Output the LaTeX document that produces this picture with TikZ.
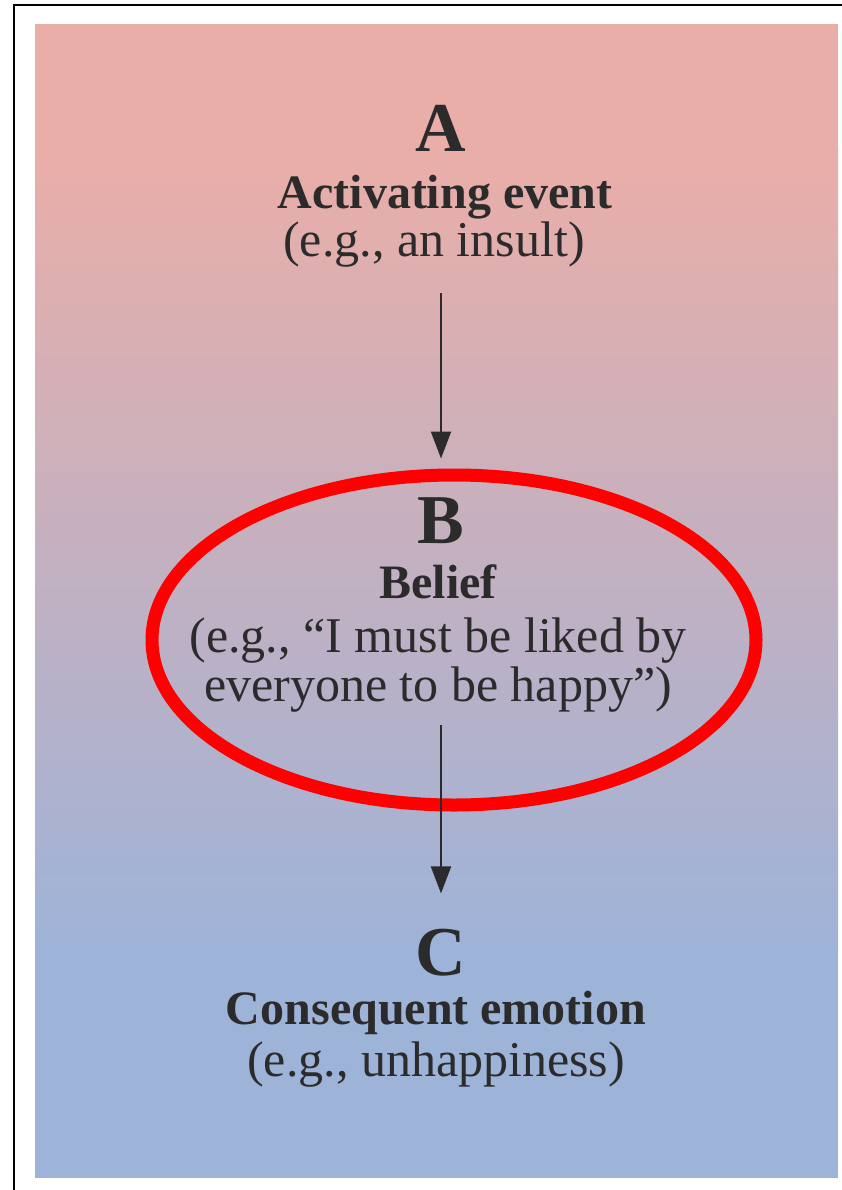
\documentclass[tikz,border=0pt]{standalone}
\usepackage{fontspec}
\setmainfont{Liberation Serif}
\usetikzlibrary{arrows.meta,shapes.geometric}
\definecolor{inkgray}{RGB}{43,43,43}
\definecolor{toppink}{RGB}{234,174,168}
\definecolor{bottomblue}{RGB}{158,179,216}
\definecolor{ringred}{RGB}{255,0,0}

\begin{document}
\begin{tikzpicture}[x=1pt, y=-1pt,
    letter/.style={anchor=base, inner sep=0pt, text=inkgray, font=\fontsize{70}{70}\selectfont\bfseries},
    headline/.style={anchor=base, inner sep=0pt, text=inkgray, font=\fontsize{48}{48}\selectfont\bfseries},
    example/.style={anchor=base, inner sep=0pt, text=inkgray, font=\fontsize{50}{50}\selectfont},
    arrow/.style={draw=inkgray, line width=2pt, -{Triangle[length=27pt,width=20pt]}}]
    % Page and frame
    \useasboundingbox (0,0) rectangle (842,1190);
    \clip (0,0) rectangle (842,1190);
    \fill[white] (0,0) rectangle (842,1190);
    \draw[line width=2pt] (14,5) rectangle (900,1250);
    \fill[toppink] (35,24) rectangle (838,151);
    \shade[top color=toppink, bottom color=bottomblue] (35,150) rectangle (838,951);
    \fill[bottomblue] (35,950) rectangle (838,1178);

    % Ring around B
    \node[ellipse, draw=ringred, line width=13pt, minimum width=604pt, minimum height=330pt, inner sep=0pt] (ring) at (454,640) {};

    % A
    \node[letter] (A) at (441,152) {A};
    \node[headline] (Atitle) at (445,209) {Activating event};
    \node[example] (Aex) at (434,256) {(e.g., an insult)};

    % B
    \node[letter] (B) at (441,543) {B};
    \node[headline] (Btitle) at (438,598) {Belief};
    \node[example] (Bex1) at (438,652) {(e.g., “I must be liked by};
    \node[example] (Bex2) at (438,701) {everyone to be happy”)};

    % C
    \node[letter] (C) at (441,975) {C};
    \node[headline] (Ctitle) at (436,1024) {Consequent emotion};
    \node[example] (Cex) at (436,1076) {(e.g., unhappiness)};

    % Arrows
    \draw[arrow, shorten <=26pt, shorten >=10pt] (A.south |- Aex.south) -- (A.south |- ring.north);
    \draw[arrow, shorten <=13pt, shorten >=35pt] (B.south |- Bex2.south) -- (C.north);
\end{tikzpicture}
\end{document}
